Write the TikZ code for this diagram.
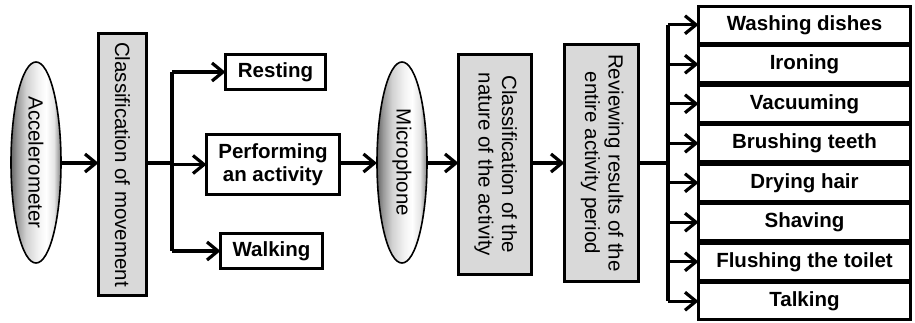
\documentclass[tikz,border=0pt]{standalone}
\usepackage{fontspec}
\setmainfont{Liberation Sans}
\usetikzlibrary{shapes.geometric,arrows.meta}

% lens-like shading for the sensor ellipses: dark rim, bright core
\pgfdeclarehorizontalshading{lens}{100bp}{%
  color(0bp)=(black!60); color(25bp)=(black!60);
  color(31bp)=(black!40); color(40bp)=(black!18);
  color(52bp)=(black!5); color(60bp)=(white);
  color(68bp)=(black!10); color(75bp)=(black!50);
  color(100bp)=(black!50)}

\begin{document}
\begin{tikzpicture}[x=1pt,y=-1pt,
  font=\fontsize{20.5}{23.5}\selectfont,
  every node/.style={inner sep=0pt, outer sep=0pt},
  flow/.style={line width=3.2pt, -{Straight Barb[length=11pt,width=18pt,line width=3.2pt]}},
  trunk/.style={line width=3.2pt},
  graybox/.style={draw, line width=3.2pt, fill=black!15, align=center},
  labelbox/.style={draw, line width=3.2pt, fill=white, font=\fontsize{20.5}{23.5}\selectfont\bfseries, align=center},
  sensor/.style={ellipse, draw, line width=1.6pt, shading=lens},
  actbox/.style={labelbox, minimum width=212pt, minimum height=37pt}
]
\useasboundingbox (0,0) rectangle (915,322);

% sensors and processing stages
\node[sensor, minimum width=50pt, minimum height=201pt] (acc) at (36,162.5)
  {\rotatebox{-90}{Accelerometer}};
\node[graybox, minimum width=48pt, minimum height=262pt] (clsmov) at (122.5,164.5)
  {\rotatebox{-90}{Classification of movement}};

\node[labelbox, minimum width=100pt, minimum height=35pt] (rest) at (275.5,72) {Resting};
\node[labelbox, minimum width=133pt, minimum height=60pt] (perf) at (273,164.5) {Performing\\an activity};
\node[labelbox, minimum width=102pt, minimum height=35pt] (walk) at (271.5,251) {Walking};

\node[sensor, minimum width=50pt, minimum height=201pt] (mic) at (402,162.5)
  {\rotatebox{-90}{Microphone}};
\node[graybox, minimum width=73pt, minimum height=220pt] (clsnat) at (495,164.5)
  {\rotatebox{-90}{\begin{tabular}{@{}c@{}}Classification of the\\nature of the activity\end{tabular}}};
\node[graybox, minimum width=74pt, minimum height=237pt] (review) at (601.5,163)
  {\rotatebox{-90}{\begin{tabular}{@{}c@{}}Reviewing results of the\\entire activity period\end{tabular}}};

% recognised activities
\node[actbox] (a1) at (804.5,24.75) {Washing dishes};
\node[actbox] (a2) at (804.5,64.25) {Ironing};
\node[actbox] (a3) at (804.5,103.75) {Vacuuming};
\node[actbox] (a4) at (804.5,143.25) {Brushing teeth};
\node[actbox] (a5) at (804.5,182.75) {Drying hair};
\node[actbox] (a6) at (804.5,222.25) {Shaving};
\node[actbox] (a7) at (804.5,261.75) {Flushing the toilet};
\node[actbox] (a8) at (804.5,301.25) {Talking};

% branch points
\coordinate (j1) at (172,163);
\coordinate (j2) at (668,163);

% connectors
\draw[flow] (acc.east |- 0,163) -- (clsmov.west |- 0,163);
\draw[trunk] (clsmov.east |- j1) -- (j1);
\draw[trunk] (j1 |- rest) -- (j1 |- walk);
\draw[flow] (j1 |- rest) -- (rest.west);
\draw[flow] (j1 |- perf) -- (perf.west);
\draw[flow] (j1 |- walk) -- (walk.west);

\draw[flow] (perf.east |- 0,163) -- (mic.west |- 0,163);
\draw[flow] (mic.east |- 0,163) -- (clsnat.west |- 0,163);
\draw[flow] (clsnat.east |- 0,163) -- (review.west |- 0,163);

\draw[trunk] (review.east |- j2) -- (j2);
\draw[trunk] (j2 |- a1) -- (j2 |- a8);
\foreach \k in {1,...,8}
  \draw[flow] (j2 |- a\k) -- (a\k.west);
\end{tikzpicture}
\end{document}
